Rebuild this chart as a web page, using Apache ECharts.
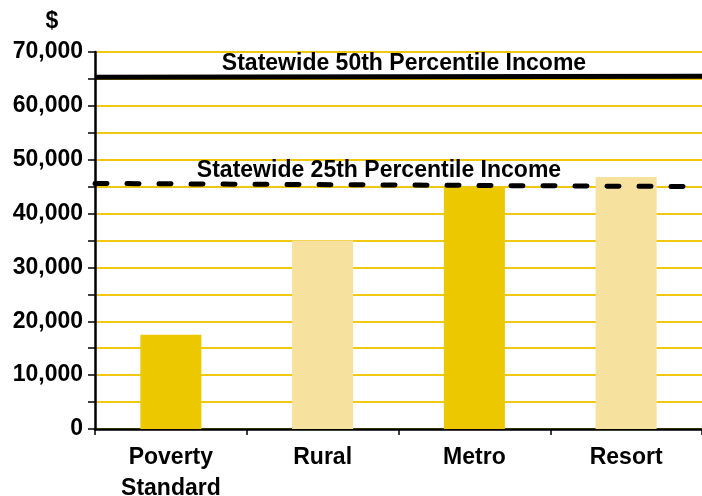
<!DOCTYPE html>
<html>
<head>
<meta charset="utf-8">
<script src="https://cdn.jsdelivr.net/npm/echarts@6/dist/echarts.min.js"></script>
<style>html,body{margin:0;padding:0;background:#fff}#c{width:702px;height:496px}</style>
</head>
<body>
<div id="c"></div>
<script>
const categories = ['Poverty\nStandard', 'Rural', 'Metro', 'Resort'];
const incomeValues = [17500, 35000, 45000, 46800];
const barColors = ['#ECC800', '#F7E19E', '#ECC800', '#F7E19E'];
const median50 = [[0, 65300], [4, 65500]];
const pct25 = [[0, 45600], [4, 45000]];
const yTickLabels = ['0', '10,000', '20,000', '30,000', '40,000', '50,000', '60,000', '70,000'];
const label50 = 'Statewide 50th Percentile Income';
const label25 = 'Statewide 25th Percentile Income';

const FONT = '"Liberation Sans", Arial, sans-serif';
const chart = echarts.init(document.getElementById('c'), null, {renderer: 'canvas'});
chart.setOption({
  animation: false,
  grid: {left: 95, right: 0, top: 52, bottom: 67, containLabel: false, outerBoundsMode: 'none'},
  xAxis: [{
    type: 'category',
    data: categories,
    boundaryGap: true,
    axisLine: {show: true, lineStyle: {color: '#000', width: 2.5}},
    axisTick: {show: true, length: 6, lineStyle: {color: '#000', width: 1.5}},
    axisLabel: {color: '#000', fontFamily: FONT, fontWeight: 'bold', fontSize: 23, lineHeight: 31, margin: 13},
    splitLine: {show: false}
  }, {
    type: 'value', min: 0, max: 4, show: false
  }],
  yAxis: {
    type: 'value', min: 0, max: 70000, interval: 5000,
    axisLine: {show: true, onZero: false, lineStyle: {color: '#000', width: 2.5}},
    axisTick: {show: true, length: 7, lineStyle: {color: '#000', width: 1.5}},
    axisLabel: {
      color: '#000', fontFamily: FONT, fontWeight: 'bold', fontSize: 23, margin: 12,
      formatter: v => (v % 10000 === 0 ? yTickLabels[v / 10000] : '')
    },
    splitLine: {show: true, lineStyle: {color: '#EFC80F', width: 2}}
  },
  series: [{
    type: 'bar',
    data: incomeValues.map((v, i) => ({value: v, itemStyle: {color: barColors[i]}})),
    barWidth: 61,
    z: 2
  }, {
    type: 'line', xAxisIndex: 1, data: median50, symbol: 'none', z: 5,
    lineStyle: {color: '#000', width: 5}
  }, {
    type: 'line', xAxisIndex: 1, data: pct25, symbol: 'none', z: 5,
    lineStyle: {color: '#000', width: 5, type: [12, 20], cap: 'round'}
  }],
  graphic: [
    {type: 'text', x: 52, y: 22, style: {text: '$', font: 'bold 23px ' + FONT, fill: '#000', align: 'center', verticalAlign: 'middle'}},
    {type: 'text', x: 404, y: 64, style: {text: label50, font: 'bold 23px ' + FONT, fill: '#000', align: 'center', verticalAlign: 'middle'}, z: 10},
    {type: 'text', x: 379, y: 171, style: {text: label25, font: 'bold 23px ' + FONT, fill: '#000', align: 'center', verticalAlign: 'middle'}, z: 10}
  ]
});
</script>
</body>
</html>
